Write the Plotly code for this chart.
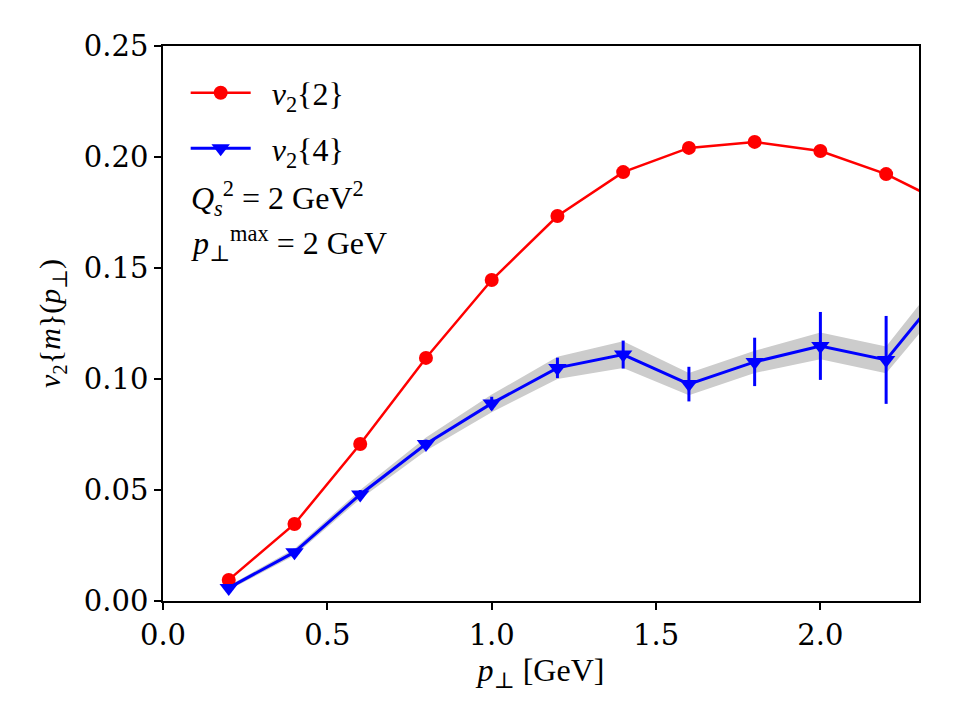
import plotly.graph_objects as go

pt = [0.2, 0.4, 0.6, 0.8, 1.0, 1.2, 1.4, 1.6, 1.8, 2.0, 2.2, 2.4]
v2_2 = [0.0095, 0.0347, 0.0707, 0.1095, 0.1446, 0.1734, 0.1932, 0.2041, 0.2068, 0.2027, 0.1923, 0.1775]
v2_2_err = [0.0008, 0.0008, 0.0008, 0.0008, 0.0008, 0.0008, 0.0008, 0.0008, 0.0008, 0.0008, 0.0008, 0.0008]
v2_4 = [0.0059, 0.0220, 0.0480, 0.0707, 0.0890, 0.1050, 0.1110, 0.0977, 0.1077, 0.1149, 0.1086, 0.1450]
v2_4_err = [0.001, 0.0015, 0.002, 0.002, 0.003, 0.0046, 0.0063, 0.0078, 0.0109, 0.0153, 0.0198, 0.022]
v2_4_band = [0.001, 0.0015, 0.002, 0.003, 0.004, 0.005, 0.006, 0.005, 0.005, 0.006, 0.006, 0.007]

upper = [v + b for v, b in zip(v2_4, v2_4_band)]
lower = [v - b for v, b in zip(v2_4, v2_4_band)]

fig = go.Figure()
fig.add_trace(go.Scatter(x=pt, y=upper, mode="lines", line=dict(width=0, color="rgba(0,0,0,0)"),
                         showlegend=False, hoverinfo="skip"))
fig.add_trace(go.Scatter(x=pt, y=lower, mode="lines", line=dict(width=0, color="rgba(0,0,0,0)"),
                         fill="tonexty", fillcolor="rgb(204,204,204)", showlegend=False, hoverinfo="skip"))
fig.add_trace(go.Scatter(x=pt, y=v2_2, mode="lines+markers", name="&nbsp;&nbsp;<i>v</i><sub>2</sub>{2}",
                         legendgroup="a",
                         line=dict(color="#ff0000", width=2.5),
                         marker=dict(symbol="circle", size=14, color="#ff0000"),
                         error_y=dict(type="data", array=v2_2_err, color="#ff0000", thickness=2.5, width=0)))
fig.add_trace(go.Scatter(x=pt, y=v2_4, mode="lines+markers", name="&nbsp;&nbsp;<i>v</i><sub>2</sub>{4}",
                         legendgroup="b",
                         line=dict(color="#0000ff", width=3),
                         marker=dict(symbol="triangle-down", size=16, color="#0000ff"),
                         error_y=dict(type="data", array=v2_4_err, color="#0000ff", thickness=3, width=0)))

serif = "Liberation Serif, DejaVu Serif, serif"
fig.add_annotation(x=0.035, y=0.725, xref="paper", yref="paper", xanchor="left", yanchor="middle",
                   text="<i>Q</i><sub><i>s</i></sub><sup>2</sup> = 2 GeV<sup>2</sup>", showarrow=False,
                   font=dict(family=serif, size=32, color="black"))
fig.add_annotation(x=0.035, y=0.645, xref="paper", yref="paper", xanchor="left", yanchor="middle",
                   text="<i>p</i><sub>⊥</sub><sup>max</sup> = 2 GeV", showarrow=False,
                   font=dict(family=serif, size=32, color="black"))

axis_common = dict(showline=True, linecolor="black", linewidth=1.5, mirror=True,
                   ticks="outside", ticklen=7, tickwidth=1.5, tickcolor="black",
                   showgrid=False, zeroline=False,
                   tickfont=dict(family="DejaVu Serif", size=29, color="black"))

fig.update_xaxes(range=[0, 2.3], tickvals=[0, 0.5, 1.0, 1.5, 2.0], ticktext=["0.0", "0.5", "1.0", "1.5", "2.0"],
                 title=dict(text="<i>p</i><sub>⊥</sub> [GeV]", font=dict(family=serif, size=32, color="black"),
                            standoff=8),
                 **axis_common)
fig.update_yaxes(range=[0, 0.25], tickvals=[0, 0.05, 0.10, 0.15, 0.20, 0.25],
                 ticktext=["0.00", "0.05", "0.10", "0.15", "0.20", "0.25"],
                 title=dict(text="<i>v</i><sub>2</sub>{<i>m</i>}(<i>p</i><sub>⊥</sub>)",
                            font=dict(family=serif, size=30, color="black"), standoff=14),
                 **axis_common)

fig.update_layout(width=960, height=720, plot_bgcolor="white", paper_bgcolor="white",
                  margin=dict(l=163, r=41, t=46, b=119),
                  legend=dict(x=0.03, y=0.965, xanchor="left", yanchor="top", bgcolor="rgba(0,0,0,0)",
                              font=dict(family=serif, size=32, color="black"), itemwidth=60,
                              traceorder="grouped", tracegroupgap=11),
                  showlegend=True)

fig.write_html("out.html")
